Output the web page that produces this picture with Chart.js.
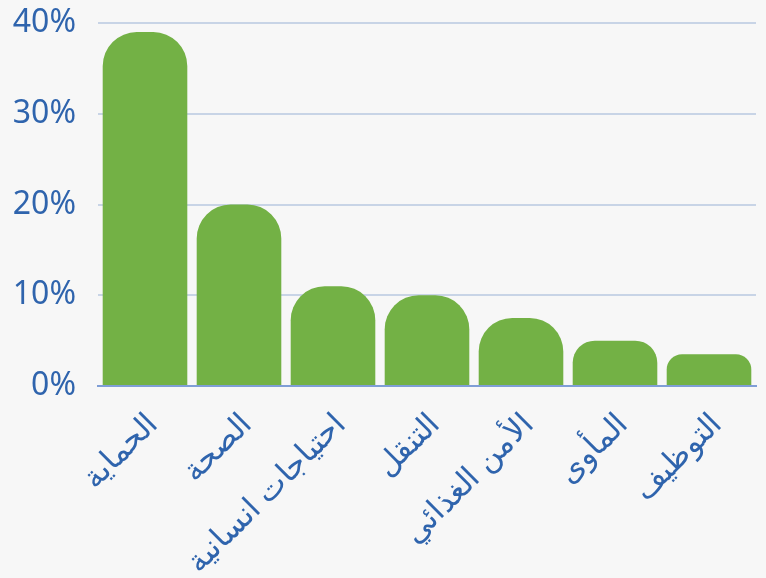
<!DOCTYPE html>
<html lang="ar">
<head>
<meta charset="utf-8">
<script src="https://cdn.jsdelivr.net/npm/chart.js@4.4.1/dist/chart.umd.min.js"></script>
<title>chart</title>
<style>
  html, body { margin: 0; padding: 0; background: #f7f7f7; }
  #wrap { width: 766px; height: 578px; position: relative; }
</style>
</head>
<body>
<div id="wrap"><canvas id="myChart"></canvas></div>
<script>
var categories = ["الحماية", "الصحة", "احتياجات انسانية", "التنقل", "الأمن الغذائي", "المأوى", "التوظيف"];
var shares = [39, 20, 11, 10, 7.5, 5, 3.5];
var yTicks = [0, 10, 20, 30, 40];

var blue = "#2f64ad";
var ctx = document.getElementById("myChart").getContext("2d");

var myChart = new Chart(ctx, {
    type: "bar",
    data: {
        labels: categories,
        datasets: [{
            data: shares,
            backgroundColor: "#73b145",
            borderRadius: { topLeft: 34, topRight: 34 },
            borderSkipped: "bottom",
            barPercentage: 0.9,
            categoryPercentage: 1
        }]
    },
    options: {
        responsive: true,
        maintainAspectRatio: false,
        animation: false,
        layout: { padding: { top: 23, right: 10, left: 0, bottom: 0 } },
        plugins: { legend: { display: false }, tooltip: { enabled: false } },
        scales: {
            x: {
                grid: { display: false },
                border: { display: true, color: "#7f9ed6", width: 2 },
                ticks: {
                    color: blue,
                    font: { family: "Noto Sans", size: 31 },
                    minRotation: 45,
                    maxRotation: 45,
                    autoSkip: false,
                    padding: 12,
                    labelOffset: 8
                },
                afterFit: function (s) { s.height = 192; s.paddingLeft = 0; }
            },
            y: {
                min: 0,
                max: 40,
                afterBuildTicks: function (s) { s.ticks = yTicks.map(function (v) { return { value: v }; }); },
                grid: { color: "#c8d4e6", lineWidth: 2, drawTicks: false },
                border: { display: false },
                ticks: {
                    color: blue,
                    font: { family: "Noto Sans", size: 32 },
                    padding: 22,
                    callback: function (v) { return v + "%"; }
                },
                afterFit: function (s) { s.width = 98; s.paddingTop = 0; s.paddingBottom = 0; }
            }
        }
    }
});
</script>
</body>
</html>
